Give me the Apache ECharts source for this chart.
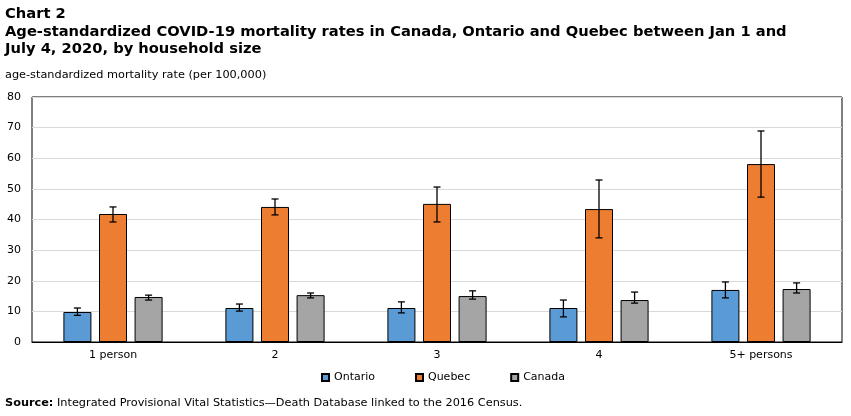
<!DOCTYPE html>
<html>
<head>
<meta charset="utf-8">
<script src="https://cdn.jsdelivr.net/npm/echarts@6/dist/echarts.min.js"></script>
<style>html,body{margin:0;padding:0;background:#fff;}#c{width:851px;height:416px;}</style>
</head>
<body>
<div id="c"></div>
<script>
var categories = ['1 person', '2', '3', '4', '5+ persons'];
var seriesNames = ['Ontario', 'Quebec', 'Canada'];
var ontario = [9.8, 11.1, 11.1, 11.1, 17.0];
var ontarioLow = [8.7, 10.1, 9.5, 8.2, 14.4];
var ontarioHigh = [11.1, 12.4, 13.1, 13.7, 19.6];
var quebec = [41.8, 44.1, 45.1, 43.4, 58.1];
var quebecLow = [39.2, 41.5, 39.2, 34.0, 47.3];
var quebecHigh = [44.1, 46.7, 50.6, 52.9, 68.9];
var canada = [14.7, 15.3, 15.0, 13.7, 17.3];
var canadaLow = [13.7, 14.4, 14.0, 12.7, 16.0];
var canadaHigh = [15.3, 16.0, 16.7, 16.3, 19.3];
var yTicks = [0, 10, 20, 30, 40, 50, 60, 70, 80];

var colors = ['#5b9bd5', '#ed7d31', '#a5a5a5'];
var values = [ontario, quebec, canada];
var lows = [ontarioLow, quebecLow, canadaLow];
var highs = [ontarioHigh, quebecHigh, canadaHigh];
var FONT = 'DejaVu Sans';
var BAR_W = 28, BAR_GAP = 7.6;

var chart = echarts.init(document.getElementById('c'));
var series = [];
seriesNames.forEach(function (name, i) {
  series.push({
    name: name, type: 'bar', data: values[i],
    barWidth: BAR_W, barGap: (BAR_GAP / BAR_W * 100).toFixed(1) + '%',
    itemStyle: { color: colors[i], borderColor: '#000', borderWidth: 1 },
    emphasis: { disabled: true }
  });
});
seriesNames.forEach(function (name, i) {
  var d = categories.map(function (c, k) { return [k, lows[i][k], highs[i][k]]; });
  series.push({
    type: 'custom', silent: true, z: 5,
    data: d,
    encode: { x: 0, y: [1, 2] },
    renderItem: function (params, api) {
      var k = api.value(0);
      var lo = api.coord([k, api.value(1)]);
      var hi = api.coord([k, api.value(2)]);
      var x = lo[0] + (i - 1) * (BAR_W + BAR_GAP);
      var cap = 3.5;
      var st = { stroke: '#000', lineWidth: 1.3 };
      return { type: 'group', children: [
        { type: 'line', shape: { x1: x, y1: lo[1], x2: x, y2: hi[1] }, style: st },
        { type: 'line', shape: { x1: x - cap, y1: lo[1], x2: x + cap, y2: lo[1] }, style: st },
        { type: 'line', shape: { x1: x - cap, y1: hi[1], x2: x + cap, y2: hi[1] }, style: st }
      ]};
    }
  });
});

chart.setOption({
  animation: false,
  textStyle: { fontFamily: FONT },
  grid: { left: 32, right: 9, top: 97, bottom: 74, show: true, borderColor: '#000', borderWidth: 1, containLabel: false },
  legend: {
    data: seriesNames, bottom: 28, left: 316, icon: 'rect', itemWidth: 7, itemHeight: 7, itemGap: 40,
    textStyle: { fontFamily: FONT, fontSize: 11, color: '#000' },
    selectedMode: false
  },
  xAxis: {
    type: 'category', data: categories,
    axisTick: { show: false },
    axisLine: { lineStyle: { color: '#000', width: 1 } },
    axisLabel: { color: '#000', fontSize: 11, margin: 8, fontFamily: FONT }
  },
  yAxis: {
    type: 'value', min: yTicks[0], max: yTicks[yTicks.length - 1], interval: yTicks[1] - yTicks[0],
    axisLine: { show: false }, axisTick: { show: false },
    splitLine: { lineStyle: { color: '#d9d9d9', width: 1 } },
    axisLabel: { color: '#000', fontSize: 11, margin: 11, fontFamily: FONT }
  },
  graphic: [
    { type: 'text', left: 5, top: 7, style: { text: 'Chart 2', font: 'bold 14.7px "' + FONT + '"', fill: '#000' } },
    { type: 'text', left: 5, top: 24, style: { text: 'Age-standardized COVID-19 mortality rates in Canada, Ontario and Quebec between Jan 1 and\nJuly 4, 2020, by household size', font: 'bold 14.7px "' + FONT + '"', fill: '#000', lineHeight: 17 } },
    { type: 'text', left: 5, top: 70, style: { text: 'age-standardized mortality rate (per 100,000)', font: '11.3px "' + FONT + '"', fill: '#000' } },
    { type: 'text', left: 5, top: 398, style: {
      text: '{b|Source:} Integrated Provisional Vital Statistics\u2014Death Database linked to the 2016 Census.',
      font: '11.3px "' + FONT + '"', fill: '#000',
      rich: { b: { fontWeight: 'bold', fontSize: 11.3, fontFamily: FONT } }
    } }
  ],
  series: series
});
</script>
</body>
</html>
